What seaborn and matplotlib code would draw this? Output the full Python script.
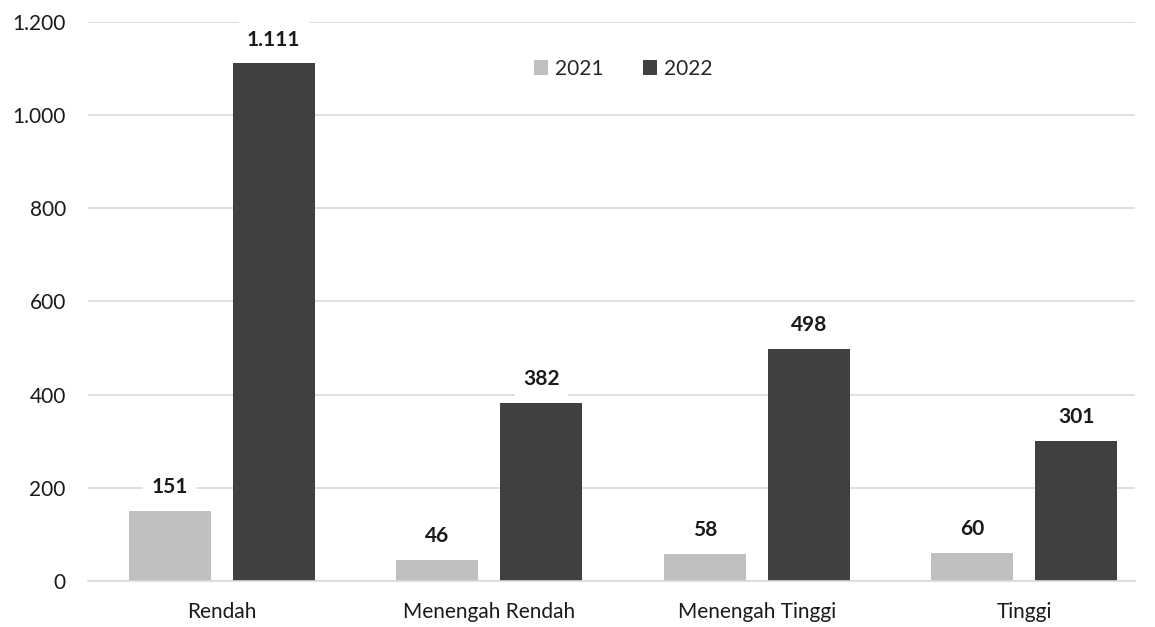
import matplotlib
matplotlib.use("Agg")
import matplotlib.pyplot as plt
import matplotlib.ticker as mticker
import seaborn as sns
import pandas as pd

categories = ["Rendah", "Menengah Rendah", "Menengah Tinggi", "Tinggi"]
years = ["2021", "2022"]
values_2021 = [151, 46, 58, 60]
values_2022 = [1111, 382, 498, 301]

df = pd.DataFrame({
    "Kategori": categories * 2,
    "Tahun": [years[0]] * 4 + [years[1]] * 4,
    "Nilai": values_2021 + values_2022,
})

sns.set_theme(style="white")
plt.rcParams["font.family"] = ["Lato", "DejaVu Sans"]

fig = plt.figure(figsize=(11.55, 6.27), dpi=100)
ax = fig.add_axes([0.0762, 0.0734, 0.9065, 0.8916])

palette = {"2021": "#BFBFBF", "2022": "#404040"}
sns.barplot(data=df, x="Kategori", y="Nilai", hue="Tahun", palette=palette,
            width=0.777, gap=0.211, ax=ax, saturation=1, linewidth=0)

ax.set_xlim(-0.5, -0.5 + 1047 / 267.5)
ax.set_ylim(0, 1200)
ax.set_yticks(range(0, 1201, 200))
ax.yaxis.set_major_formatter(mticker.FuncFormatter(lambda v, p: f"{int(v):,}".replace(",", ".")))
ax.grid(axis="y", color="#D9D9D9", linewidth=1.2)
ax.set_axisbelow(True)
for s in ["top", "right", "left"]:
    ax.spines[s].set_visible(False)
ax.spines["bottom"].set_color("#D9D9D9")
ax.spines["bottom"].set_linewidth(1.2)
ax.set_xlabel("")
ax.set_ylabel("")
ax.tick_params(axis="both", length=0, labelsize=15, colors="#1a1a1a")
ax.tick_params(axis="x", pad=15)
ax.tick_params(axis="y", pad=16)

for cont in ax.containers:
    for bar in cont:
        h = bar.get_height()
        txt = f"{int(round(h)):,}".replace(",", ".")
        ax.annotate(txt, (bar.get_x() + bar.get_width() / 2, h),
                    xytext=(0, 10), textcoords="offset points",
                    ha="center", va="bottom", fontsize=15, fontweight="bold",
                    color="#1a1a1a",
                    bbox=dict(boxstyle="square,pad=0.4", fc="white", ec="none"))

ax.legend(loc="center", bbox_to_anchor=(0.511, 0.916), ncol=2, frameon=False,
          handlelength=0.7, handleheight=0.7, handletextpad=0.3, columnspacing=1.9,
          fontsize=15)

fig.savefig("out.png", dpi=100)
